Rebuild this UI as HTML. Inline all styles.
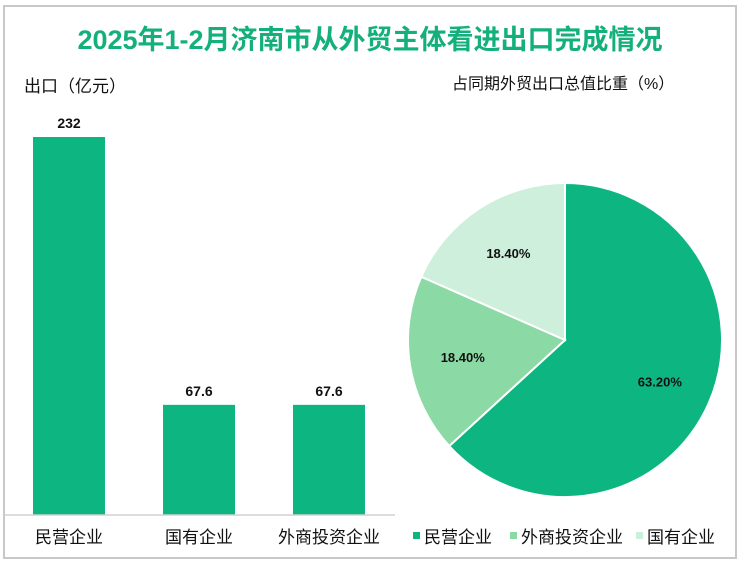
<!DOCTYPE html>
<html><head><meta charset="utf-8"><style>
body{margin:0;width:740px;height:563px;background:#fff;font-family:"Liberation Sans","Noto Sans CJK SC",sans-serif;overflow:hidden}
.t{position:absolute;white-space:nowrap}
</style></head><body>
<div style="position:absolute;left:3px;top:5px;width:730px;height:550px;border:2px solid #c8c8c8"></div>
<div class="t" style="left:0;width:740px;text-align:center;top:18px;font-size:27px;font-weight:bold;color:#14b07c">2025年1-2月济南市从外贸主体看进出口完成情况</div>
<div class="t" style="left:24px;top:72px;font-size:17px;color:#111">出口（亿元）</div>
<div class="t" style="left:452px;top:70px;font-size:16px;color:#111">占同期外贸出口总值比重（%）</div>
<svg id="c" width="740" height="563" style="position:absolute;left:0;top:0"></svg>
<script>
const categories=["民营企业","国有企业","外商投资企业"];
const values=[232,67.6,67.6];
const valueLabels=["232","67.6","67.6"];
const pieNames=["民营企业","外商投资企业","国有企业"];
const pieValues=[63.2,18.4,18.4];
const pieLabels=["63.20%","18.40%","18.40%"];
const pieColors=["#0db580","#8bd9a4","#cdefdc"];
const NS="http://www.w3.org/2000/svg",svg=document.getElementById('c');
function mk(t,a,txt){const e=document.createElementNS(NS,t);for(const k in a)e.setAttribute(k,a[k]);if(txt!==undefined)e.textContent=txt;svg.appendChild(e);return e;}
const base=515,scale=378/232,slot=130,x0=33,bw=72;
const y=v=>base-v*scale, xb=i=>x0+i*slot;
values.forEach((v,i)=>{
 const r=mk('rect',{x:xb(i),y:y(v),width:bw,height:base-y(v),fill:'#0db580'});
 
 
 const l=mk('text',{x:xb(i)+bw/2,y:y(v)-9,'text-anchor':'middle','font-size':14,'font-weight':'bold',fill:'#111'},valueLabels[i]);
 
 
 const c=mk('text',{x:xb(i)+bw/2,y:543,'text-anchor':'middle','font-size':17,fill:'#111','font-family':'Liberation Sans,Noto Sans CJK SC,sans-serif'},categories[i]);
 
 
});
const ax=mk('line',{x1:5,x2:395,y1:base,y2:base,stroke:'#d0d0d0','stroke-width':1.5});


const cx=565,cy=340,R=157,tot=pieValues.reduce((a,b)=>a+b,0);
let a0=-Math.PI/2;
pieValues.forEach((v,i)=>{
 const a1=a0+v/tot*2*Math.PI,lg=(a1-a0)>Math.PI?1:0;
 const p=mk('path',{d:`M${cx},${cy}L${cx+R*Math.cos(a0)},${cy+R*Math.sin(a0)}A${R},${R} 0 ${lg} 1 ${cx+R*Math.cos(a1)},${cy+R*Math.sin(a1)}Z`,fill:pieColors[i],stroke:'#fff','stroke-width':2});
 
 
 const m=(a0+a1)/2,rr=R*0.66;
 const t=mk('text',{x:cx+rr*Math.cos(m),y:cy+rr*Math.sin(m)+5,'text-anchor':'middle','font-size':13,'font-weight':'bold',fill:'#111'},pieLabels[i]);
 
 
 a0=a1;
});
const lx=[413,510,636];
pieNames.forEach((n,i)=>{
 const s=mk('rect',{x:lx[i],y:532,width:7,height:7,fill:pieColors[i]});
 
 
 const t=mk('text',{x:lx[i]+11,y:543,'font-size':17,fill:'#111'},n);
 
 
});
</script>
</body></html>
